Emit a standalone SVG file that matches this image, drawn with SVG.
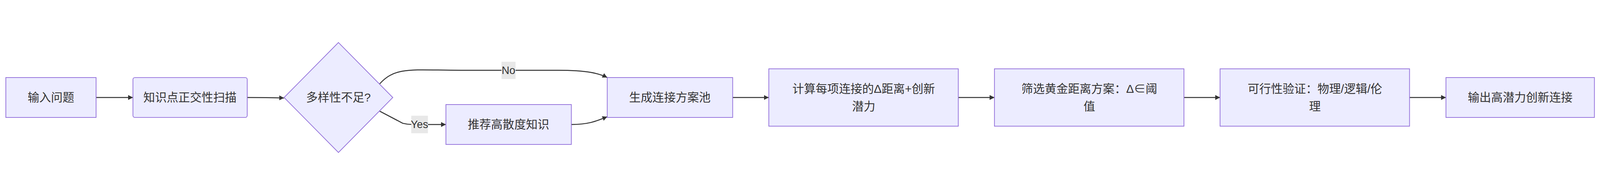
<svg xmlns="http://www.w3.org/2000/svg" width="6595" height="498" viewBox="0 0 6595 498" style="width:100%;height:100%">
<style>
.n{fill:#ECECFF;stroke:#9370DB;stroke-width:3}
.t{font-family:"Liberation Sans","Noto Sans CJK SC",sans-serif;font-size:48px;fill:#333;text-anchor:middle;dominant-baseline:central}
.e{fill:none;stroke:#333;stroke-width:4}
.lb{fill:#e8e8e8}
.lt{font-family:"Liberation Sans","Noto Sans CJK SC",sans-serif;font-size:44px;fill:#333;text-anchor:middle;dominant-baseline:central}
</style>
<defs><marker id="a" viewBox="0 0 10 10" refX="10" refY="5" markerWidth="5" markerHeight="6" markerUnits="strokeWidth" orient="auto"><path d="M0,0L10,5L0,10z" fill="#333"/></marker></defs>
<rect width="6595" height="498" fill="#fff"/>
<g id="edges">
<path class="e" marker-end="url(#a)" d="M396,249H548"/>
<path class="e" marker-end="url(#a)" d="M1019,249Q1100,249 1171,251"/>
<path class="e" marker-end="url(#a)" d="M1565,193C1630,120 1700,137 1900,137H2300C2420,137 2470,150 2503,167"/>
<path class="e" marker-end="url(#a)" d="M1565,305L1660,355Q1680,360 1700,360H1838"/>
<path class="e" marker-end="url(#a)" d="M2355,360C2430,360 2460,345 2503,328"/>
<path class="e" marker-end="url(#a)" d="M3020,249H3169"/>
<path class="e" marker-end="url(#a)" d="M3950,249H4099"/>
<path class="e" marker-end="url(#a)" d="M4880,249H5029"/>
<path class="e" marker-end="url(#a)" d="M5810,249H5960"/>
<rect class="lb" x="2067" y="102" width="58" height="71"/><text class="lt" x="2096" y="137">No</text>
<rect class="lb" x="1695" y="324" width="69" height="72"/><text class="lt" x="1729" y="360">Yes</text>
</g>
<g id="n1"><rect class="n" x="24" y="167" width="372" height="164"/><text class="t" x="210" y="249">输入问题</text></g>
<g id="n2"><rect class="n" x="548" y="167" width="471" height="164" rx="8"/><text class="t" x="783" y="249">知识点正交性扫描</text></g>
<g id="n3"><polygon class="n" points="1395,23 1619,249 1395,475 1171,249"/><text class="t" x="1395" y="249">多样性不足?</text></g>
<g id="n4"><rect class="n" x="1838" y="278" width="517" height="164"/><text class="t" x="2096" y="360">推荐高散度知识</text></g>
<g id="n5"><rect class="n" x="2503" y="167" width="517" height="164"/><text class="t" x="2761" y="249">生成连接方案池</text></g>
<g id="n6"><rect class="n" x="3169" y="131" width="781" height="236"/><text class="t" x="3560" y="213">计算每项连接的Δ距离+创新</text><text class="t" x="3560" y="285">潜力</text></g>
<g id="n7"><rect class="n" x="4099" y="131" width="781" height="236"/><text class="t" x="4490" y="213">筛选黄金距离方案：Δ∈阈</text><text class="t" x="4490" y="285">值</text></g>
<g id="n8"><rect class="n" x="5029" y="131" width="781" height="236"/><text class="t" x="5420" y="213">可行性验证：物理/逻辑/伦</text><text class="t" x="5420" y="285">理</text></g>
<g id="n9"><rect class="n" x="5960" y="167" width="612" height="164"/><text class="t" x="6266" y="249">输出高潜力创新连接</text></g>
</svg>
